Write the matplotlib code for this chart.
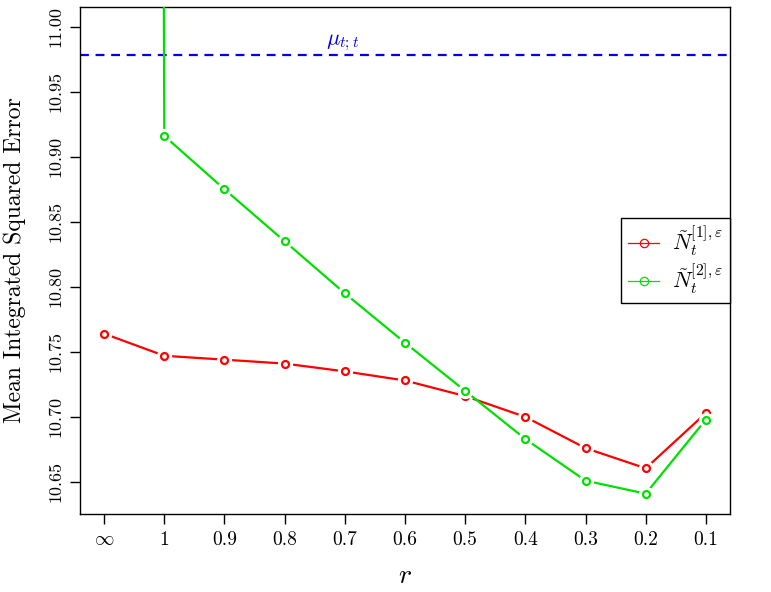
import matplotlib
matplotlib.use("Agg")
import matplotlib.pyplot as plt
import numpy as np

plt.rcParams['font.family'] = ['cmr10', 'DejaVu Serif']
plt.rcParams['mathtext.fontset'] = 'cm'
plt.rcParams['axes.formatter.use_mathtext'] = True

# data
r_labels = [r'$\infty$', '1', '0.9', '0.8', '0.7', '0.6', '0.5', '0.4', '0.3', '0.2', '0.1']
mise_1 = [10.764, 10.747, 10.744, 10.741, 10.735, 10.728, 10.716, 10.700, 10.676, 10.6605, 10.703]
mise_2 = [25.0, 10.916, 10.875, 10.835, 10.795, 10.757, 10.720, 10.683, 10.651, 10.641, 10.698]
mu_tt = 10.978
yticks = [10.65, 10.70, 10.75, 10.80, 10.85, 10.90, 10.95, 11.00]

x = np.arange(len(r_labels))

fig = plt.figure(figsize=(7.71, 5.92), dpi=100)
ax = fig.add_axes([0.1038, 0.1318, 0.8430, 0.8562])

ax.axhline(mu_tt, color='#0000ee', ls=(0, (4, 3)), lw=1.6, zorder=1)
ax.text(3.97, mu_tt + 0.002, r'$\mu_{t;t}$', color='#0000ee', fontsize=16,
        ha='center', va='bottom')

# R type="b": lines with a gap round each point
for vals, col, z in [(mise_1, '#ff0000', 2), (mise_2, '#00e000', 5)]:
    ax.plot(x, vals, color=col, lw=1.6, zorder=z)
    ax.plot(x, vals, ls='none', marker='o', ms=10, mfc='white', mec='white', zorder=z + 1)
    ax.plot(x, vals, ls='none', marker='o', ms=5, mfc='none', mec=col, mew=1.6, zorder=z + 2)

h1, = ax.plot([], [], color='#ff0000', lw=0.9, marker='o', ms=6, mfc='none', mew=0.9)
h2, = ax.plot([], [], color='#00e000', lw=0.9, marker='o', ms=6, mfc='none', mew=0.9)
leg = ax.legend([h1, h2], [r'$\tilde{N}_t^{[1],\varepsilon}$', r'$\tilde{N}_t^{[2],\varepsilon}$'],
                loc='center right', bbox_to_anchor=(1.0, 0.50), borderaxespad=0,
                fontsize=16, fancybox=False, framealpha=1, edgecolor='black',
                borderpad=0.3, handlelength=1.4, handletextpad=0.6, labelspacing=0.2)
leg.get_frame().set_linewidth(1.0)

ax.set_xlim(-0.4, 10.4)
ax.set_ylim(10.6254, 11.015)
ax.set_xticks(x)
ax.set_xticklabels(r_labels, fontsize=14)
ax.set_yticks(yticks)
ax.set_yticklabels([f'{v:.2f}' for v in yticks], fontsize=13, rotation=90, va='center')
ax.tick_params(direction='out', length=7, width=1, pad=5)
ax.tick_params(axis='x', pad=5)

ax.set_xlabel(r'$r$', fontsize=20, labelpad=10)
ax.set_ylabel('Mean Integrated Squared Error', fontsize=17, labelpad=16)

for s in ax.spines.values():
    s.set_linewidth(1.0)

fig.savefig('out.png', dpi=100)
